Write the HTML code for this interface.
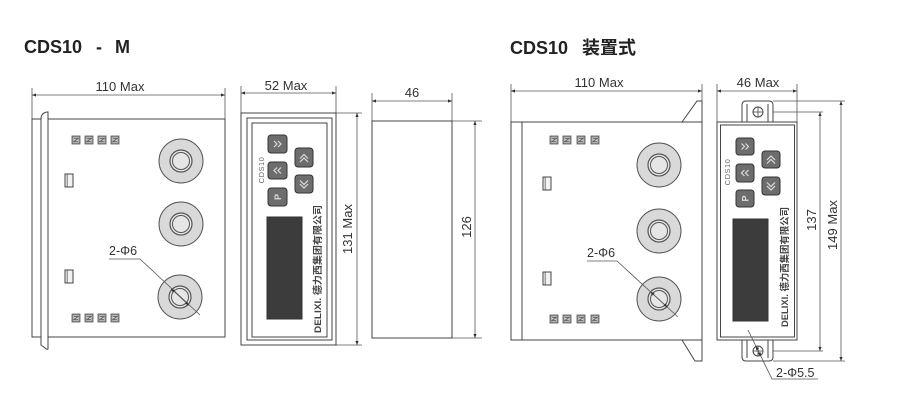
<!DOCTYPE html>
<html><head><meta charset="utf-8">
<style>
html,body{margin:0;padding:0;background:#fff;}
svg{display:block;}
text{font-family:"Liberation Sans","Noto Sans CJK SC",sans-serif;}
</style></head>
<body>
<svg width="900" height="420" viewBox="0 0 900 420" xmlns="http://www.w3.org/2000/svg">
<defs>
<marker id="a" viewBox="0 0 10 10" refX="10" refY="5" markerWidth="7" markerHeight="4" markerUnits="userSpaceOnUse" orient="auto-start-reverse"><path d="M0,1 L10,5 L0,9 z" fill="#333"/></marker>
<g id="term"><rect x="0" y="0" width="8" height="8" fill="#9a9a9a" stroke="#555" stroke-width="0.8"/><rect x="1.5" y="1.5" width="5" height="5" fill="#cfcfcf" stroke="none"/><path d="M2,2.5 L6,2.5 L2,5.5 L6,5.5" fill="none" stroke="#555" stroke-width="0.8"/></g>
<g id="knob"><circle r="22" fill="#d9d9d9" stroke="#555" stroke-width="1"/><circle r="11" fill="#e6e6e6" stroke="#555" stroke-width="1.2"/><circle r="8.5" fill="#e6e6e6" stroke="#555" stroke-width="1"/></g>
<g id="led"><rect x="0" y="0" width="8" height="13" fill="#f2f2f2" stroke="#444" stroke-width="1"/><line x1="2.2" y1="0.5" x2="2.2" y2="12.5" stroke="#777" stroke-width="1"/></g>
</defs>

<!-- ===== LEFT TITLE ===== -->
<text x="24" y="53" font-size="18" font-weight="bold" fill="#222">CDS10</text>
<text x="96" y="53" font-size="18" font-weight="bold" fill="#222">-</text>
<text x="115" y="53" font-size="18" font-weight="bold" fill="#222">M</text>

<!-- ===== LEFT SIDE VIEW ===== -->
<g stroke="#555" stroke-width="0.8" fill="none">
<line x1="32" y1="88" x2="32" y2="119"/>
<line x1="225" y1="88" x2="225" y2="119"/>
<line x1="32" y1="95" x2="225" y2="95" marker-start="url(#a)" marker-end="url(#a)"/>
</g>
<text x="120" y="91" font-size="13" text-anchor="middle" fill="#333">110 Max</text>
<g stroke="#444" stroke-width="1" fill="none">
<rect x="32" y="119" width="193" height="218" fill="#fff"/>
<path d="M41,337 L41,119 Q41,113 47,112 L48,112 L48,349 Q47,350 45,348 L41,345 Z" fill="#fff"/>
</g>
<use href="#term" x="72" y="136"/><use href="#term" x="85" y="136"/><use href="#term" x="98" y="136"/><use href="#term" x="111" y="136"/>
<use href="#term" x="72" y="314"/><use href="#term" x="85" y="314"/><use href="#term" x="98" y="314"/><use href="#term" x="111" y="314"/>
<use href="#led" x="65" y="174"/>
<use href="#led" x="65" y="270"/>
<use href="#knob" x="181" y="161"/>
<use href="#knob" x="181" y="224"/>
<use href="#knob" x="180" y="297"/>
<text x="109" y="255" font-size="12.5" fill="#333">2-Φ6</text>
<g stroke="#555" stroke-width="0.8" fill="none">
<polyline points="109,259 140,259 200,315"/>
<line x1="180" y1="297" x2="171" y2="288.6" marker-end="url(#a)"/>
<line x1="180" y1="297" x2="189" y2="305.4" marker-end="url(#a)"/>
</g>

<!-- ===== LEFT FRONT VIEW ===== -->
<g stroke="#555" stroke-width="0.8" fill="none">
<line x1="241" y1="86" x2="241" y2="113"/>
<line x1="336" y1="86" x2="336" y2="113"/>
<line x1="241" y1="93" x2="336" y2="93" marker-start="url(#a)" marker-end="url(#a)"/>
<line x1="336" y1="113" x2="362" y2="113"/>
<line x1="336" y1="345" x2="362" y2="345"/>
<line x1="357" y1="113" x2="357" y2="345" marker-start="url(#a)" marker-end="url(#a)"/>
</g>
<text x="286" y="90" font-size="13" text-anchor="middle" fill="#333">52 Max</text>
<text transform="translate(352,229) rotate(-90)" font-size="13" text-anchor="middle" fill="#333">131 Max</text>
<g stroke="#444" stroke-width="1" fill="none">
<rect x="241" y="113" width="95" height="232" fill="#fff"/>
<rect x="247" y="118" width="85" height="222"/>
<rect x="252" y="123" width="75" height="214"/>
</g>
<g stroke="#333" stroke-width="1" fill="#6d6d6d">
<rect x="268" y="135" width="19" height="18" rx="3"/>
<rect x="295" y="148" width="18" height="19" rx="3"/>
<rect x="268" y="162" width="19" height="17" rx="3"/>
<rect x="295" y="175" width="18" height="18" rx="3"/>
<rect x="268" y="188" width="19" height="18" rx="3"/>
</g>
<g stroke="#ddd" stroke-width="1.2" fill="none">
<path d="M274,141 L277,144 L274,147 M278,141 L281,144 L278,147"/>
<path d="M300,158.5 L304,154.5 L308,158.5 M300,162 L304,158 L308,162"/>
<path d="M281,167.5 L278,170.5 L281,173.5 M277,167.5 L274,170.5 L277,173.5"/>
<path d="M300,180.5 L304,184.5 L308,180.5 M300,184 L304,188 L308,184"/>
</g>
<text transform="translate(281,197) rotate(-90)" font-size="9" font-weight="bold" text-anchor="middle" fill="#ddd">P</text>
<text transform="translate(264,170) rotate(-90)" font-size="7.5" text-anchor="middle" fill="#666" letter-spacing="0.5">CDS10</text>
<rect x="267" y="217" width="35" height="102" fill="#3c3c3c" stroke="#333" stroke-width="1"/>
<text transform="translate(321,333) rotate(-90)" font-size="9.5" font-weight="bold" fill="#444" textLength="128" lengthAdjust="spacingAndGlyphs">DELIXI. 德力西集团有限公司</text>

<!-- ===== LEFT TOP/SIDE VIEW (46) ===== -->
<g stroke="#555" stroke-width="0.8" fill="none">
<line x1="372" y1="93" x2="372" y2="121"/>
<line x1="452" y1="93" x2="452" y2="121"/>
<line x1="372" y1="101" x2="452" y2="101" marker-start="url(#a)" marker-end="url(#a)"/>
<line x1="452" y1="121" x2="482" y2="121"/>
<line x1="452" y1="338" x2="482" y2="338"/>
<line x1="475" y1="121" x2="475" y2="338" marker-start="url(#a)" marker-end="url(#a)"/>
</g>
<text x="412" y="97" font-size="13" text-anchor="middle" fill="#333">46</text>
<text transform="translate(471,227) rotate(-90)" font-size="13" text-anchor="middle" fill="#333">126</text>
<rect x="372" y="121" width="80" height="217" fill="#fff" stroke="#444" stroke-width="1"/>

<!-- ===== RIGHT TITLE ===== -->
<text x="510" y="54" font-size="18" font-weight="bold" fill="#222">CDS10</text>
<text x="582" y="54" font-size="18" font-weight="bold" fill="#222" font-family="'Noto Sans CJK SC',sans-serif">装置式</text>

<!-- ===== RIGHT SIDE VIEW ===== -->
<g stroke="#555" stroke-width="0.8" fill="none">
<line x1="511" y1="84" x2="511" y2="122"/>
<line x1="702" y1="84" x2="702" y2="101"/>
<line x1="511" y1="91" x2="702" y2="91" marker-start="url(#a)" marker-end="url(#a)"/>
</g>
<text x="599" y="87" font-size="13" text-anchor="middle" fill="#333">110 Max</text>
<g stroke="#444" stroke-width="1" fill="none">
<rect x="511" y="122" width="191" height="218" fill="#fff"/>
<line x1="522" y1="122" x2="522" y2="340"/>
<polyline points="682,122 697,101 702,101 702,122"/>
<polyline points="682,340 695,361 702,361 702,340"/>
</g>
<use href="#term" x="550" y="136"/><use href="#term" x="563" y="136"/><use href="#term" x="577" y="136"/><use href="#term" x="591" y="136"/>
<use href="#term" x="550" y="315"/><use href="#term" x="563" y="315"/><use href="#term" x="577" y="315"/><use href="#term" x="591" y="315"/>
<use href="#led" x="543" y="177"/>
<use href="#led" x="543" y="272"/>
<use href="#knob" x="659" y="165"/>
<use href="#knob" x="659" y="231"/>
<use href="#knob" x="659" y="299"/>
<text x="587" y="257" font-size="12.5" fill="#333">2-Φ6</text>
<g stroke="#555" stroke-width="0.8" fill="none">
<polyline points="587,261 617,261 678,317"/>
<line x1="659" y1="299.5" x2="650.5" y2="291.7" marker-end="url(#a)"/>
<line x1="659" y1="299.5" x2="667.5" y2="307.3" marker-end="url(#a)"/>
</g>

<!-- ===== RIGHT FRONT VIEW ===== -->
<g stroke="#555" stroke-width="0.8" fill="none">
<line x1="717" y1="84" x2="717" y2="122"/>
<line x1="797" y1="84" x2="797" y2="122"/>
<line x1="717" y1="91" x2="797" y2="91" marker-start="url(#a)" marker-end="url(#a)"/>
<line x1="758" y1="112" x2="823" y2="112"/>
<line x1="758" y1="351" x2="823" y2="351"/>
<line x1="773" y1="101" x2="845" y2="101"/>
<line x1="773" y1="361" x2="845" y2="361"/>
<line x1="820" y1="112" x2="820" y2="351" marker-start="url(#a)" marker-end="url(#a)"/>
<line x1="841" y1="101" x2="841" y2="361" marker-start="url(#a)" marker-end="url(#a)"/>
</g>
<text x="758" y="87" font-size="13" text-anchor="middle" fill="#333">46 Max</text>
<text transform="translate(816,220) rotate(-90)" font-size="13" text-anchor="middle" fill="#333">137</text>
<text transform="translate(837,225) rotate(-90)" font-size="13" text-anchor="middle" fill="#333">149 Max</text>
<g stroke="#444" stroke-width="1" fill="#fff">
<path d="M742,122 L742,105 Q742,101 746,101 L769,101 Q773,101 773,105 L773,122"/>
<path d="M742,340 L742,357 Q742,361 746,361 L769,361 Q773,361 773,357 L773,340"/>
<line x1="747" y1="104" x2="747" y2="122"/>
<line x1="768" y1="104" x2="768" y2="122"/>
<line x1="747" y1="340" x2="747" y2="358"/>
<line x1="768" y1="340" x2="768" y2="358"/>
<circle cx="758" cy="112" r="5"/>
<circle cx="758" cy="351" r="5"/>
<rect x="717" y="122" width="80" height="218"/>
<rect x="720.5" y="125" width="74" height="212" fill="none"/>
</g>
<g stroke="#444" stroke-width="0.8">
<line x1="753" y1="112" x2="763" y2="112"/><line x1="758" y1="107" x2="758" y2="117"/>
<line x1="753" y1="351" x2="763" y2="351"/><line x1="758" y1="346" x2="758" y2="356"/>
</g>
<g stroke="#333" stroke-width="1" fill="#6d6d6d">
<rect x="736" y="138" width="18" height="17" rx="3"/>
<rect x="762" y="151" width="18" height="17" rx="3"/>
<rect x="736" y="164" width="18" height="18" rx="3"/>
<rect x="762" y="177" width="18" height="18" rx="3"/>
<rect x="736" y="190" width="18" height="17" rx="3"/>
</g>
<g stroke="#ddd" stroke-width="1.2" fill="none">
<path d="M741.5,143.5 L744.5,146.5 L741.5,149.5 M745.5,143.5 L748.5,146.5 L745.5,149.5"/>
<path d="M767,160 L771,156 L775,160 M767,163.5 L771,159.5 L775,163.5"/>
<path d="M748.5,170 L745.5,173 L748.5,176 M744.5,170 L741.5,173 L744.5,176"/>
<path d="M767,182.5 L771,186.5 L775,182.5 M767,186 L771,190 L775,186"/>
</g>
<text transform="translate(748.5,198.5) rotate(-90)" font-size="9" font-weight="bold" text-anchor="middle" fill="#ddd">P</text>
<text transform="translate(730,172) rotate(-90)" font-size="7.5" text-anchor="middle" fill="#666" letter-spacing="0.5">CDS10</text>
<rect x="733" y="219" width="35" height="102" fill="#3c3c3c" stroke="#333" stroke-width="1"/>
<text transform="translate(788,327) rotate(-90)" font-size="9.5" font-weight="bold" fill="#444" textLength="120" lengthAdjust="spacingAndGlyphs">DELIXI. 德力西集团有限公司</text>
<g stroke="#555" stroke-width="0.8" fill="none">
<polyline points="748,330 772,379 818,379"/>
<line x1="758.3" y1="351" x2="755.8" y2="346" marker-end="url(#a)"/>
<line x1="758.3" y1="351" x2="761" y2="356.5" marker-end="url(#a)"/>
</g>
<text x="776" y="377" font-size="12.5" fill="#333">2-Φ5.5</text>
</svg>
</body></html>
